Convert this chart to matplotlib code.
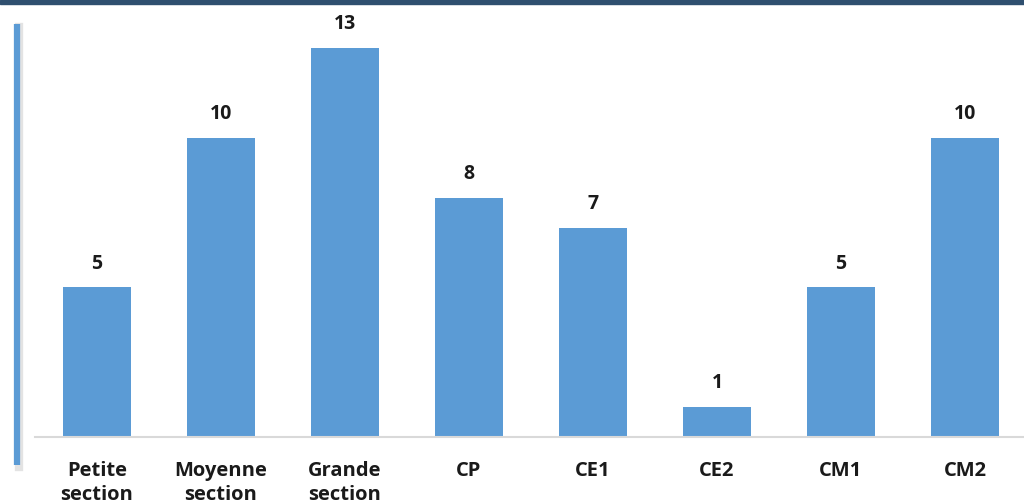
import matplotlib.pyplot as plt
from matplotlib.lines import Line2D
from matplotlib.patches import Rectangle

categories = ["Petite\nsection", "Moyenne\nsection", "Grande\nsection",
              "CP", "CE1", "CE2", "CM1", "CM2"]
values = [5, 10, 13, 8, 7, 1, 5, 10]

BAR_COLOR = "#5B9BD5"
TEXT_COLOR = "#1A1A1A"

plt.rcParams["font.family"] = ["Open Sans", "DejaVu Sans"]

fig = plt.figure(figsize=(10.24, 5.04), dpi=100)
ax = fig.add_axes([35 / 1024, 1 - 437 / 504, 992 / 1024, 433.6 / 504])

x = list(range(len(categories)))
bars = ax.bar(x, values, width=0.55, color=BAR_COLOR, zorder=2)

for rect, val in zip(bars, values):
    ax.annotate(str(val),
                xy=(rect.get_x() + rect.get_width() / 2, rect.get_height()),
                xytext=(0, 10), textcoords="offset points",
                ha="center", va="bottom", fontsize=14, fontweight="bold",
                color=TEXT_COLOR)

ax.set_xlim(-0.5, len(categories) - 0.5)
ax.set_ylim(0, 14.5)
ax.set_xticks(x)
ax.set_xticklabels(categories, fontsize=14.5, fontweight="bold",
                   color=TEXT_COLOR, linespacing=1.3)
ax.tick_params(axis="x", length=0, pad=17)
ax.set_yticks([])

for side in ["top", "right", "left"]:
    ax.spines[side].set_visible(False)
ax.spines["bottom"].set_color("#D9D9D9")
ax.spines["bottom"].set_linewidth(1.5)

# dark band on top of the slide
fig.patches.append(Rectangle((0, 1 - 3.5 / 504), 1, 3.5 / 504,
                             transform=fig.transFigure, color="#2F4F6F"))

# blue accent line on the left, with a soft shadow
fig.lines.append(Line2D([19 / 1024, 19 / 1024], [1 - 27 / 504, 1 - 467 / 504],
                        transform=fig.transFigure, color="#BBBBBB",
                        linewidth=6, alpha=0.4))
fig.lines.append(Line2D([17 / 1024, 17 / 1024], [1 - 24 / 504, 1 - 465 / 504],
                        transform=fig.transFigure, color=BAR_COLOR,
                        linewidth=4.5, solid_capstyle="butt"))

fig.savefig("out.png", dpi=100)
